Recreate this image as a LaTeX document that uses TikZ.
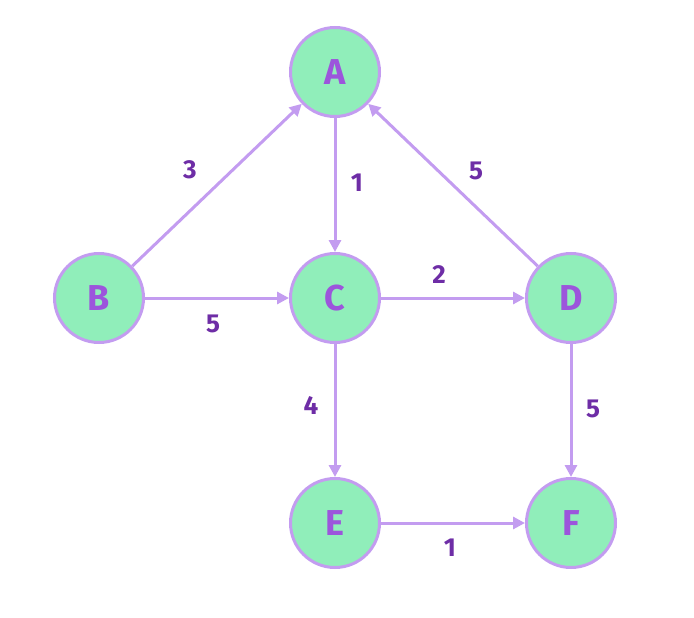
\documentclass[tikz,border=0pt]{standalone}
\usepackage{fontspec}
\setmainfont{Fira Sans}
\usetikzlibrary{arrows.meta}
\definecolor{nodefill}{HTML}{90EEBA}
\definecolor{nodeline}{HTML}{C39CF0}
\definecolor{nodetext}{HTML}{9C55DC}
\definecolor{labeltext}{HTML}{6E2DA6}
\begin{document}
\begin{tikzpicture}[x=1pt,y=-1pt,
  vertex/.style={circle,draw=nodeline,fill=nodefill,line width=3pt,minimum size=89pt,inner sep=0pt,text=nodetext,font=\fontsize{36}{36}\selectfont\bfseries},
  edge/.style={draw=nodeline,line width=3pt,-{Triangle[length=12pt,width=12pt]}},
  lbl/.style={text=labeltext,font=\fontsize{26}{26}\selectfont\bfseries}]
\useasboundingbox (0,0) rectangle (694,618);
\node[vertex] (A) at (335,72) {A};
\node[vertex] (B) at (99,298) {B};
\node[vertex] (C) at (335,298) {C};
\node[vertex] (D) at (571,298) {D};
\node[vertex] (E) at (335,523) {E};
\node[vertex] (F) at (571,523) {F};
\draw[edge] (B) -- (A);
\draw[edge] (A) -- (C);
\draw[edge] (D) -- (A);
\draw[edge] (B) -- (C);
\draw[edge] (C) -- (D);
\draw[edge] (C) -- (E);
\draw[edge] (D) -- (F);
\draw[edge] (E) -- (F);
\node[lbl] (l1) at (190,170) {3};
\node[lbl] (l2) at (357,183) {1};
\node[lbl] (l3) at (476,171) {5};
\node[lbl] (l4) at (213,324) {5};
\node[lbl] (l5) at (439,275) {2};
\node[lbl] (l6) at (311,405) {4};
\node[lbl] (l7) at (593,409) {5};
\node[lbl] (l8) at (450,548) {1};
\end{tikzpicture}
\end{document}
